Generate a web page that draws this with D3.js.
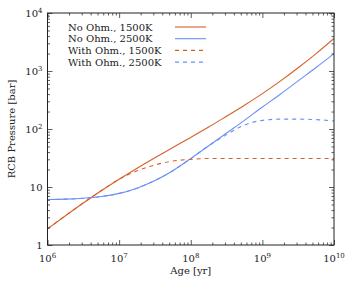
<!DOCTYPE html>
<html lang="en">
<head>
<meta charset="UTF-8">
<script src="https://cdn.jsdelivr.net/npm/d3@7"></script>
<style>
  body { margin: 0; background: white; }
  svg { display: block; font-family: "DejaVu Serif", serif; }
</style>
</head>
<body>
<script>
// ages in years (quarter decades)
const ages = [1e6, 1.78e6, 3.16e6, 5.62e6, 1e7, 1.78e7, 3.16e7, 5.62e7, 1e8, 1.78e8, 3.16e8, 5.62e8, 1e9, 1.78e9, 3.16e9, 5.62e9, 1e10];
// RCB pressure in bar
const noOhm1500 = [1.9, 3.2, 5.31, 8.61, 13.6, 21.1, 32.0, 47.9, 71.6, 108, 166, 257, 407, 668, 1135, 1995, 3630];
const noOhm2500 = [6.07, 6.17, 6.38, 6.84, 7.76, 9.55, 12.9, 19.1, 30.9, 51.3, 85.1, 141, 240, 398, 676, 1148, 1995];
const withOhm1500 = [1.9, 3.2, 5.31, 8.61, 13.6, 19, 24, 28, 30, 31, 31, 31, 31, 31, 31, 31, 31];
const withOhm2500 = [6.07, 6.17, 6.38, 6.84, 7.76, 9.55, 12.9, 19.1, 30.9, 51.3, 80, 117, 141, 148, 148, 145, 138];

const seriesNames = ["No Ohm., 1500K", "No Ohm., 2500K", "With Ohm., 1500K", "With Ohm., 2500K"];
const seriesValues = [noOhm1500, noOhm2500, withOhm1500, withOhm2500];
const seriesColors = ["#d65f2a", "#6a90f2", "#d65f2a", "#6a90f2"];
const seriesDash = [null, null, "4,4", "4,4"];

const xTickExp = [6, 7, 8, 9, 10];
const yTickLabels = ["1", "10", "10^2", "10^3", "10^4"];

const W = 354, H = 283;
const margin = { top: 13, right: 20, bottom: 38, left: 47.5 };
const iw = W - margin.left - margin.right;
const ih = H - margin.top - margin.bottom;

const svg = d3.select("body").append("svg").attr("width", W).attr("height", H);
const g = svg.append("g").attr("transform", `translate(${margin.left},${margin.top})`);

const x = d3.scaleLog().domain([1e6, 1e10]).range([0, iw]);
const y = d3.scaleLog().domain([1, 1e4]).range([ih, 0]);

// minor ticks 2..9 in each decade
function minors(lo, hi) {
  const out = [];
  for (let e = lo; e < hi; e++)
    for (let m = 2; m <= 9; m++) out.push(m * Math.pow(10, e));
  return out;
}
const xMajor = xTickExp.map(e => Math.pow(10, e));
const yMajor = [1, 10, 100, 1000, 10000];

// curves
const line = d3.line()
  .x((d, i) => x(ages[i]))
  .y(d => y(d))
  .curve(d3.curveMonotoneX);

g.append("defs").append("clipPath").attr("id", "clip")
  .append("rect").attr("width", iw).attr("height", ih);

seriesValues.forEach((vals, k) => {
  g.append("path")
    .attr("clip-path", "url(#clip)")
    .attr("d", line(vals))
    .attr("fill", "none")
    .attr("stroke", seriesColors[k])
    .attr("stroke-width", 1.1)
    .attr("stroke-dasharray", seriesDash[k]);
});

// axes, ticks inward on all four sides
const axisStyle = sel => {
  sel.select(".domain").remove();
  sel.selectAll("line").attr("stroke", "#333").attr("stroke-width", 0.8);
};
g.append("g").attr("transform", `translate(0,${ih})`)
  .call(d3.axisBottom(x).tickValues(xMajor).tickSize(-5).tickFormat("")).call(axisStyle);
g.append("g").attr("transform", `translate(0,${ih})`)
  .call(d3.axisBottom(x).tickValues(minors(6, 10)).tickSize(-2.5).tickFormat("")).call(axisStyle);
g.append("g")
  .call(d3.axisTop(x).tickValues(xMajor).tickSize(-5).tickFormat("")).call(axisStyle);
g.append("g")
  .call(d3.axisTop(x).tickValues(minors(6, 10)).tickSize(-2.5).tickFormat("")).call(axisStyle);
g.append("g")
  .call(d3.axisLeft(y).tickValues(yMajor).tickSize(-5).tickFormat("")).call(axisStyle);
g.append("g")
  .call(d3.axisLeft(y).tickValues(minors(0, 4)).tickSize(-2.5).tickFormat("")).call(axisStyle);
g.append("g").attr("transform", `translate(${iw},0)`)
  .call(d3.axisRight(y).tickValues(yMajor).tickSize(-5).tickFormat("")).call(axisStyle);
g.append("g").attr("transform", `translate(${iw},0)`)
  .call(d3.axisRight(y).tickValues(minors(0, 4)).tickSize(-2.5).tickFormat("")).call(axisStyle);

g.append("rect").attr("width", iw).attr("height", ih)
  .attr("fill", "none").attr("stroke", "#222").attr("stroke-width", 1);

// x tick labels
xTickExp.forEach(e => {
  const t = g.append("text")
    .attr("x", x(Math.pow(10, e)))
    .attr("y", ih + 17)
    .attr("text-anchor", "middle")
    .attr("font-size", 10)
    .attr("fill", "#222");
  t.append("tspan").text("10");
  t.append("tspan").attr("dy", -4).attr("font-size", 7).text(e);
});

// y tick labels
yTickLabels.forEach((lab, i) => {
  const parts = lab.split("^");
  const t = g.append("text")
    .attr("x", -5)
    .attr("y", y(yMajor[i]) + 3.5)
    .attr("text-anchor", "end")
    .attr("font-size", 10)
    .attr("fill", "#222");
  t.append("tspan").text(parts[0]);
  if (parts[1]) t.append("tspan").attr("dy", -4).attr("font-size", 7).text(parts[1]);
});

// axis titles
svg.append("text")
  .attr("x", margin.left + iw / 2)
  .attr("y", 274)
  .attr("text-anchor", "middle")
  .attr("font-size", 10)
  .attr("fill", "#222")
  .text("Age [yr]");
svg.append("text")
  .attr("transform", `translate(15,${margin.top + ih / 2}) rotate(-90)`)
  .attr("text-anchor", "middle")
  .attr("font-size", 10)
  .attr("fill", "#222")
  .text("RCB Pressure [bar]");

// legend
const legend = svg.append("g");
seriesNames.forEach((name, k) => {
  const ly = 27 + k * 11.7;
  legend.append("text")
    .attr("x", 68)
    .attr("y", ly + 3.5)
    .attr("font-size", 10)
    .attr("fill", "#222")
    .text(name);
  legend.append("line")
    .attr("x1", 175).attr("x2", 206)
    .attr("y1", ly).attr("y2", ly)
    .attr("stroke", seriesColors[k])
    .attr("stroke-width", 1.1)
    .attr("stroke-dasharray", seriesDash[k]);
});
</script>
</body>
</html>
